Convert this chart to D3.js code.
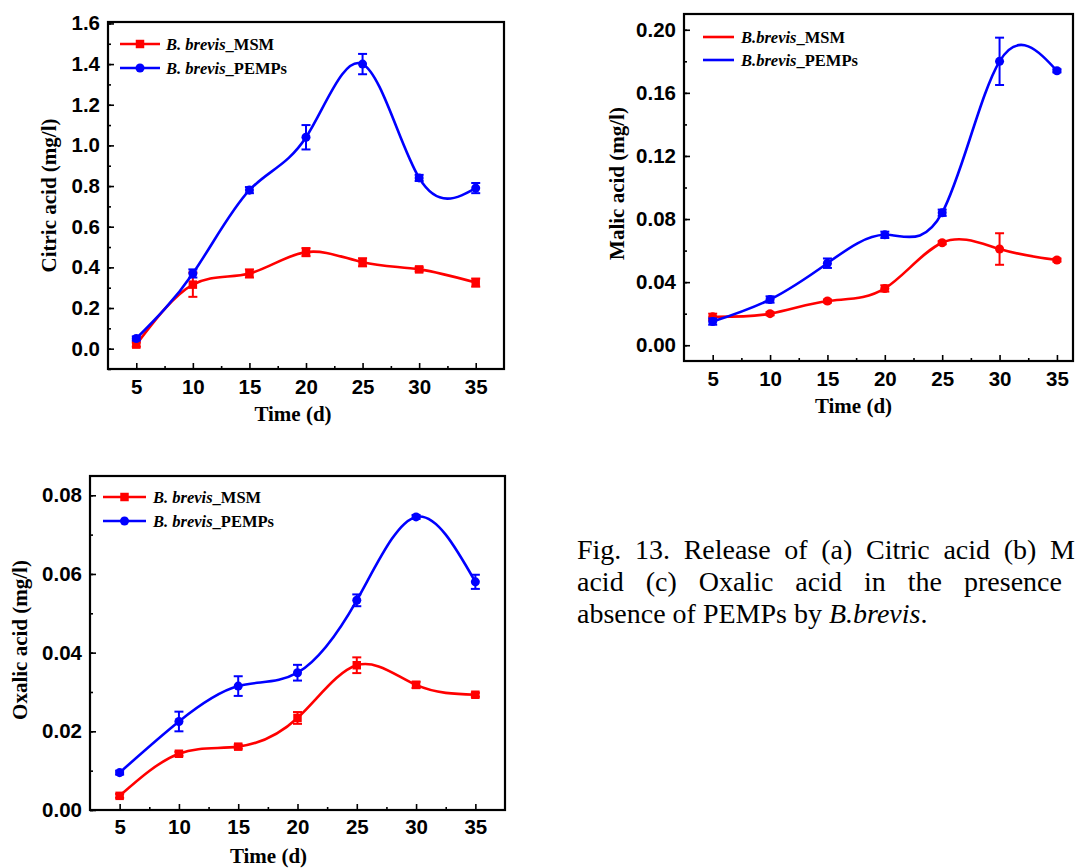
<!DOCTYPE html>
<html>
<head>
<meta charset="utf-8">
<script src="https://cdn.jsdelivr.net/npm/d3@7/dist/d3.min.js"></script>
<style>
  html, body { margin: 0; padding: 0; background: #fff; }
  svg { display: block; }
</style>
</head>
<body>
<svg id="fig" width="1075" height="868"></svg>
<script>
// Sampling days (x axis of every panel)
const days = [5, 10, 15, 20, 25, 30, 35];
const xTicks = [5, 10, 15, 20, 25, 30, 35];

// (a) Citric acid, mg/l
const citricMSM      = [0.02, 0.315, 0.37, 0.475, 0.425, 0.39, 0.325];
const citricMSMErr   = [0.01, 0.06, 0.02, 0.02, 0.02, 0.01, 0.02];
const citricPEMPs    = [0.05, 0.37, 0.78, 1.04, 1.40, 0.84, 0.79];
const citricPEMPsErr = [0.01, 0.02, 0.015, 0.06, 0.05, 0.015, 0.025];
const citricTicks    = [0, 0.2, 0.4, 0.6, 0.8, 1.0, 1.2, 1.4, 1.6];

// (b) Malic acid, mg/l
const malicMSM      = [0.018, 0.020, 0.028, 0.036, 0.065, 0.061, 0.054];
const malicMSMErr   = [0.002, 0.001, 0.001, 0.002, 0.001, 0.010, 0.001];
const malicPEMPs    = [0.015, 0.029, 0.052, 0.070, 0.084, 0.180, 0.174];
const malicPEMPsErr = [0.002, 0.002, 0.003, 0.002, 0.002, 0.015, 0.001];
const malicTicks    = [0, 0.04, 0.08, 0.12, 0.16, 0.20];

// (c) Oxalic acid, mg/l
const oxalicMSM      = [0.0036, 0.0143, 0.0161, 0.0234, 0.0368, 0.0318, 0.0293];
const oxalicMSMErr   = [0.0005, 0.0005, 0.0005, 0.0015, 0.002, 0.0008, 0.0005];
const oxalicPEMPs    = [0.0095, 0.0225, 0.0315, 0.0349, 0.0533, 0.0745, 0.0580];
const oxalicPEMPsErr = [0.0005, 0.0025, 0.0025, 0.002, 0.0015, 0.0005, 0.0018];
const oxalicTicks    = [0, 0.02, 0.04, 0.06, 0.08];

const RED = "#ff0000", BLUE = "#0000ff";
const SANS = "'Liberation Sans', Arial, sans-serif";
const SERIF = "'Liberation Serif', 'Times New Roman', serif";

const svg = d3.select("#fig");
svg.append("rect").attr("width", 1075).attr("height", 868).attr("fill", "#fff");

function drawPanel(p) {
  const x = d3.scaleLinear().domain(p.xDomain).range([p.left, p.right]);
  const y = d3.scaleLinear().domain(p.yDomain).range([p.bottom, p.top]);
  const g = svg.append("g");

  // minor ticks halfway between the labelled ones
  const half = (p.yTicks[1] - p.yTicks[0]) / 2;
  const yMinor = d3.range(Math.ceil(p.yDomain[0] / half - 1e-9), Math.floor(p.yDomain[1] / half + 1e-9) + 1)
    .map(k => k * half);
  const xMinor = d3.range(7.5, p.xDomain[1], 5);

  const yAxis = d3.axisLeft(y).tickValues(p.yTicks).tickSize(-6).tickPadding(8)
    .tickFormat(d3.format(p.yFormat));
  const yAxisMinor = d3.axisLeft(y).tickValues(yMinor).tickSize(-3).tickFormat("");
  const xAxis = d3.axisBottom(x).tickValues(xTicks).tickSize(-6).tickPadding(p.xPad)
    .tickFormat(d3.format("d"));
  const xAxisMinor = d3.axisBottom(x).tickValues(xMinor).tickSize(-3).tickFormat("");

  [[yAxis, `translate(${p.left},0)`], [yAxisMinor, `translate(${p.left},0)`],
   [xAxis, `translate(0,${p.bottom})`], [xAxisMinor, `translate(0,${p.bottom})`]]
    .forEach(([ax, tr]) => {
      const a = g.append("g").attr("transform", tr).call(ax);
      a.select(".domain").remove();
      a.selectAll(".tick line").attr("stroke", "#000").attr("stroke-width", 1.6);
      a.selectAll(".tick text").attr("fill", "#000")
        .style("font-family", SANS).style("font-weight", "bold").style("font-size", "20.5px");
    });

  // frame
  g.append("rect")
    .attr("x", p.left).attr("y", p.top)
    .attr("width", p.right - p.left).attr("height", p.bottom - p.top)
    .attr("fill", "none").attr("stroke", "#000").attr("stroke-width", 2.2);

  // axis titles
  g.append("text")
    .attr("x", (p.left + p.right) / 2 + p.xTitleDx).attr("y", p.bottom + p.xTitleDy)
    .attr("text-anchor", "middle")
    .style("font-family", SERIF).style("font-weight", "bold").style("font-size", "21px")
    .text("Time (d)");
  g.append("text")
    .attr("transform", `translate(${p.yTitleX},${(p.top + p.bottom) / 2 + p.yTitleDy}) rotate(-90)`)
    .attr("text-anchor", "middle")
    .style("font-family", SERIF).style("font-weight", "bold").style("font-size", "21px")
    .text(p.yTitle);

  const line = d3.line().x(d => x(d.t)).y(d => y(d.v)).curve(d3.curveNatural);

  p.series.forEach(s => {
    const pts = days.map((t, i) => ({ t, v: s.values[i], e: s.errors[i] }));
    const sg = g.append("g");
    sg.append("path").datum(pts).attr("d", line)
      .attr("fill", "none").attr("stroke", s.color).attr("stroke-width", 2.6);
    // error bars
    const eb = sg.selectAll(".eb").data(pts).enter().append("g");
    eb.append("line")
      .attr("x1", d => x(d.t)).attr("x2", d => x(d.t))
      .attr("y1", d => y(d.v - d.e)).attr("y2", d => y(d.v + d.e))
      .attr("stroke", s.color).attr("stroke-width", 2);
    [-1, 1].forEach(sign => {
      eb.append("line")
        .attr("x1", d => x(d.t) - 4.5).attr("x2", d => x(d.t) + 4.5)
        .attr("y1", d => y(d.v + sign * d.e)).attr("y2", d => y(d.v + sign * d.e))
        .attr("stroke", s.color).attr("stroke-width", 2);
    });
    // markers
    const sym = d3.symbol().type(s.shape === "square" ? d3.symbolSquare : d3.symbolCircle)
      .size(s.shape === "square" ? 72 : 64);
    sg.selectAll(".mk").data(pts).enter().append("path")
      .attr("d", sym)
      .attr("transform", d => `translate(${x(d.t)},${y(d.v)})`)
      .attr("fill", s.color);
  });

  // legend
  p.series.forEach((s, i) => {
    const cy = p.legend.y[i];
    const lg = g.append("g");
    lg.append("line")
      .attr("x1", p.legend.x0).attr("x2", p.legend.x1)
      .attr("y1", cy).attr("y2", cy)
      .attr("stroke", s.color).attr("stroke-width", 2.6);
    if (p.legend.markers) {
      const sym = d3.symbol().type(s.shape === "square" ? d3.symbolSquare : d3.symbolCircle)
        .size(s.shape === "square" ? 72 : 64);
      lg.append("path").attr("d", sym)
        .attr("transform", `translate(${(p.legend.x0 + p.legend.x1) / 2},${cy})`)
        .attr("fill", s.color);
    }
    const t = lg.append("text")
      .attr("x", p.legend.tx).attr("y", cy + 5.5)
      .style("font-family", SERIF).style("font-weight", "bold").style("font-size", "16.5px");
    t.append("tspan").style("font-style", "italic").text(p.legend.prefix);
    t.append("tspan").text(s.suffix);
  });
}

drawPanel({
  left: 108, right: 504, top: 22, bottom: 369,
  xDomain: [2.5, 37.5], yDomain: [-0.1, 1.607],
  yTicks: citricTicks, yFormat: ".1f", xPad: 10,
  yTitle: "Citric acid (mg/l)", yTitleX: 56, yTitleDy: 0, xTitleDx: -13, xTitleDy: 52,
  legend: { x0: 120, x1: 160, tx: 166, y: [44, 68], markers: true, prefix: "B. brevis" },
  series: [
    { values: citricMSM, errors: citricMSMErr, color: RED, shape: "square", suffix: "_MSM" },
    { values: citricPEMPs, errors: citricPEMPsErr, color: BLUE, shape: "circle", suffix: "_PEMPs" }
  ]
});

drawPanel({
  left: 684, right: 1073, top: 14, bottom: 361,
  xDomain: [2.5, 36.4], yDomain: [-0.01, 0.21],
  yTicks: malicTicks, yFormat: ".2f", xPad: 10,
  yTitle: "Malic acid (mg/l)", yTitleX: 624, yTitleDy: -4, xTitleDx: -25, xTitleDy: 52,
  legend: { x0: 703, x1: 734, tx: 741, y: [37, 60], markers: false, prefix: "B.brevis" },
  series: [
    { values: malicMSM, errors: malicMSMErr, color: RED, shape: "circle", suffix: "_MSM" },
    { values: malicPEMPs, errors: malicPEMPsErr, color: BLUE, shape: "circle", suffix: "_PEMPs" }
  ]
});

drawPanel({
  left: 90, right: 505, top: 476, bottom: 810,
  xDomain: [2.5, 37.5], yDomain: [0, 0.0849],
  yTicks: oxalicTicks, yFormat: ".2f", xPad: 9,
  yTitle: "Oxalic acid (mg/l)", yTitleX: 27, yTitleDy: -3, xTitleDx: -29, xTitleDy: 53,
  legend: { x0: 103, x1: 146, tx: 153, y: [497, 521], markers: true, prefix: "B. brevis" },
  series: [
    { values: oxalicMSM, errors: oxalicMSMErr, color: RED, shape: "square", suffix: "_MSM" },
    { values: oxalicPEMPs, errors: oxalicPEMPsErr, color: BLUE, shape: "circle", suffix: "_PEMPs" }
  ]
});

// Figure caption: justified lines, set word by word so that the word at
// index `anchor` starts at `anchorX`
const captionLines = [
  { words: ["Fig.", "13.", "Release", "of", "(a)", "Citric", "acid", "(b)", "Malic"], anchor: 8, anchorX: 1050, baseline: 559 },
  { words: ["acid", "(c)", "Oxalic", "acid", "in", "the", "presence", "or"], anchor: 6, anchorX: 964, baseline: 591 },
];
const captionX = 577;

const cap = svg.append("g")
  .style("font-family", SERIF).style("font-size", "28px").attr("fill", "#000");

function wordWidth(w) {
  const t = cap.append("text").text(w);
  const wd = t.node().getComputedTextLength();
  t.remove();
  return wd;
}

captionLines.forEach(L => {
  const widths = L.words.map(wordWidth);
  const used = d3.sum(widths.slice(0, L.anchor));
  const gap = (L.anchorX - captionX - used) / L.anchor;
  let cx = captionX;
  L.words.forEach((w, i) => {
    cap.append("text").attr("x", cx).attr("y", L.baseline).text(w);
    cx += widths[i] + gap;
  });
});

const last = cap.append("text").attr("x", captionX).attr("y", 623);
last.append("tspan").text("absence of PEMPs by ");
last.append("tspan").style("font-style", "italic").text("B.brevis");
last.append("tspan").text(".");
</script>
</body>
</html>
